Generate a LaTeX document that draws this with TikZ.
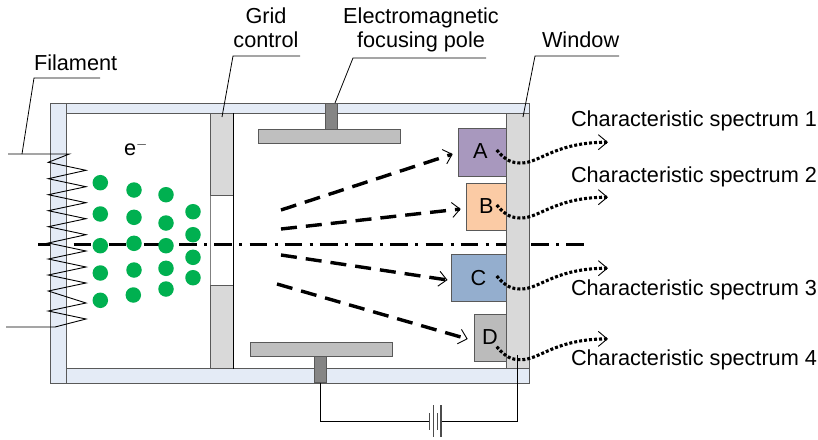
\documentclass[tikz,border=0pt]{standalone}
\usepackage{fontspec}
\setmainfont{Liberation Sans}
\usetikzlibrary{arrows.meta}
\definecolor{wallc}{HTML}{E4EBF6}
\definecolor{gridc}{HTML}{D9D9D9}
\definecolor{stemc}{HTML}{858585}
\definecolor{platec}{HTML}{BFBFBF}
\definecolor{acol}{HTML}{A898BE}
\definecolor{bcol}{HTML}{FBCBA5}
\definecolor{ccol}{HTML}{94AECE}
\definecolor{dcol}{HTML}{BBBBBB}
\definecolor{dotc}{HTML}{00B050}
\tikzset{
  lab/.style={font=\fontsize{21.7}{25}\selectfont,inner sep=0pt,outer sep=0pt,text depth=0pt},
  part/.style={draw=black!65,line width=1pt,inner sep=0pt,outer sep=0pt},
  wallpart/.style={part,fill=wallc},
  gridpart/.style={part,fill=gridc},
  stempart/.style={part,fill=stemc},
  platepart/.style={part,fill=platec},
  target/.style={part,font=\fontsize{21.7}{25}\selectfont,text=black},
  electron/.style={circle,fill=dotc,minimum size=15.5pt,inner sep=0pt,outer sep=0pt},
  leader/.style={draw=black,line width=0.8pt},
  beam/.style={line width=3.4pt,dash pattern=on 16pt off 9pt,
     -{Straight Barb[length=8pt,width=15pt,line width=0.9pt]}},
  emission/.style={line width=3.1pt,dash pattern=on 3pt off 2pt,
     -{Straight Barb[length=9pt,width=15pt,line width=0.9pt]}},
  axisline/.style={line width=3.2pt,dash pattern=on 17.6pt off 7.4pt on 3pt off 7.2pt},
}
\begin{document}
\begin{tikzpicture}[x=1pt,y=-1pt]
\useasboundingbox (0,0) rectangle (818,439);
% axis
\coordinate (axL) at (38.3,244.7);
\coordinate (axR) at (584,244.7);
\draw[axisline] (axL) -- (axR);
% envelope
\node[wallpart,anchor=north west,minimum width=463pt,minimum height=10pt] (top) at (66.5,103) {};
\node[wallpart,anchor=north west,minimum width=463pt,minimum height=15pt] (bottom) at (66.5,368.5) {};
\node[wallpart,anchor=north west,minimum width=16pt,minimum height=280pt] (left) at (50.5,103) {};
% grid
\node[gridpart,anchor=north west,minimum width=23pt,minimum height=82.5pt] (gridU) at (210,113) {};
\node[gridpart,anchor=north west,minimum width=23pt,minimum height=83.5pt] (gridL) at (210,285) {};
\draw[draw=black!50,line width=.8pt] (gridU.south west) -- (gridL.north west);
\draw[line width=1pt] (gridU.north east) -- (gridL.south east);
% window
\node[gridpart,anchor=north west,minimum width=23pt,minimum height=255.5pt] (window) at (506,113) {};
% poles
\node[stempart,anchor=north west,minimum width=12pt,minimum height=26pt] (stemT) at (325,103) {};
\node[platepart,anchor=north west,minimum width=142.5pt,minimum height=14pt] (plateT) at (258,129) {};
\node[stempart,anchor=north west,minimum width=12pt,minimum height=26pt] (stemB) at (314,356.5) {};
\node[platepart,anchor=north west,minimum width=142pt,minimum height=14pt] (plateB) at (250.7,342.7) {};
% targets
\node[target,fill=acol,minimum width=47.5pt,minimum height=48pt] (A) at (482.3,152) {\raisebox{2pt}{\hspace{-4pt}A}};
\node[target,fill=bcol,minimum width=39.5pt,minimum height=47pt] (B) at (486.3,206.5) {B};
\node[target,fill=ccol,minimum width=55pt,minimum height=47.6pt] (C) at (478.5,277.8) {C};
\node[target,fill=dcol,minimum width=32pt,minimum height=47pt] (D) at (490,337.5) {\raisebox{1.5pt}{D}};
% filament
\coordinate (filA) at (8,154);
\coordinate (filB) at (6,327);
\draw[line width=.9pt] (filA) -- (69.3,154) -- (48.3,162.3) -- (86,170.3) -- (48.3,178.7) -- (86,186.7) -- (48.3,194.7) -- (86,202.7)
 -- (48.3,210.7) -- (86,218.7) -- (48.3,226.7) -- (86,234.7) -- (48.3,243) -- (86,251) -- (48.3,259) -- (86,267) -- (48.3,275)
 -- (86,283) -- (48.3,291) -- (86,303) -- (48.3,311) -- (86,319) -- (55,327) -- (filB);
% electrons
\foreach \n/\x/\y in {1/100.3/182.7,2/100.3/214,3/100.3/245.7,4/100.3/273,5/100.3/300.3,
  6/134/190,7/134/217.3,8/134/243.3,9/134/270,10/133.3/295,
  11/166/194.7,12/166/223,13/166/245.7,14/166/268.3,15/166/289,
  16/193/211.7,17/193/234.7,18/193/257.3,19/193/277.7}
  \node[electron] (e\n) at (\x,\y) {};
% labels
\node[lab,anchor=base west] (elabel) at (124,155) {e\raisebox{.55ex}{\fontsize{15}{15}\selectfont$-$}};
\node[lab,anchor=base west] (fil) at (34,70) {Filament};
\node[lab,anchor=base] (g1) at (266,23) {Grid};
\node[lab,anchor=base] (g2) at (266,47) {control};
\node[lab,anchor=base] (em1) at (421,23) {Electromagnetic};
\node[lab,anchor=base] (em2) at (421,47) {focusing pole};
\node[lab,anchor=base west] (win) at (542,47) {Window};
\node[lab,anchor=base west] (s1) at (571,126) {Characteristic spectrum 1};
\node[lab,anchor=base west] (s2) at (571,182) {Characteristic spectrum 2};
\node[lab,anchor=base west] (s3) at (571,295) {Characteristic spectrum 3};
\node[lab,anchor=base west] (s4) at (571,365) {Characteristic spectrum 4};
% leaders
\coordinate (lf0) at (100,78); \coordinate (lf1) at (34,78); \coordinate (lf2) at (22,154);
\draw[leader] (lf0) -- (lf1) -- (lf2);
\coordinate (lg0) at (300,56); \coordinate (lg1) at (233,56); \coordinate (lg2) at (222,117);
\draw[leader] (lg0) -- (lg1) -- (lg2);
\coordinate (le0) at (486,58); \coordinate (le1) at (353,58); \coordinate (le2) at (335,103);
\draw[leader] (le0) -- (le1) -- (le2);
\coordinate (lw0) at (619,56); \coordinate (lw1) at (535,56); \coordinate (lw2) at (523,117);
\draw[leader] (lw0) -- (lw1) -- (lw2);
% beams
\coordinate (b1s) at (281,210); \coordinate (b1e) at (452.7,154);
\coordinate (b2s) at (281,229); \coordinate (b2e) at (460.7,209);
\coordinate (b3s) at (281,255); \coordinate (b3e) at (447.5,280);
\coordinate (b4s) at (277,284); \coordinate (b4e) at (467.7,339);
\draw[beam] (b1s) -- (b1e);
\draw[beam] (b2s) -- (b2e);
\draw[beam] (b3s) -- (b3e);
\draw[beam] (b4s) -- (b4e);
% emissions
\foreach \nm/\y in {a/150,b/205,c/276,d/346.7}{
  \coordinate (\nm s) at (496.7,\y);
  \coordinate (\nm e) at (608,\y-7.8);
  \draw[emission] (\nm s) .. controls (506,\y+11) and (512,\y+13) .. (521,\y+13)
     .. controls (540,\y+13) and (555,\y-7.8) .. (\nm e);
}
% battery circuit
\coordinate (w0) at (320,382.5); \coordinate (w1) at (320,421);
\coordinate (w2) at (428.5,421); \coordinate (w3) at (441,421);
\coordinate (w4) at (517.3,421); \coordinate (w5) at (517.3,355);
\draw[line width=.9pt] (w0) -- (w1) -- (w2);
\draw[line width=.9pt] (w3) -- (w4) -- (w5);
\coordinate (c1t) at (429,413); \coordinate (c1b) at (429,430);
\coordinate (c2t) at (433,405); \coordinate (c2b) at (433,437);
\coordinate (c3t) at (437.3,413); \coordinate (c3b) at (437.3,430);
\coordinate (c4t) at (441,405); \coordinate (c4b) at (441,437);
\draw[line width=1pt,black!70] (c1t) -- (c1b);
\draw[line width=1pt,black!70] (c2t) -- (c2b);
\draw[line width=1pt,black!70] (c3t) -- (c3b);
\draw[line width=1.4pt,black!70] (c4t) -- (c4b);
\end{tikzpicture}
\end{document}
